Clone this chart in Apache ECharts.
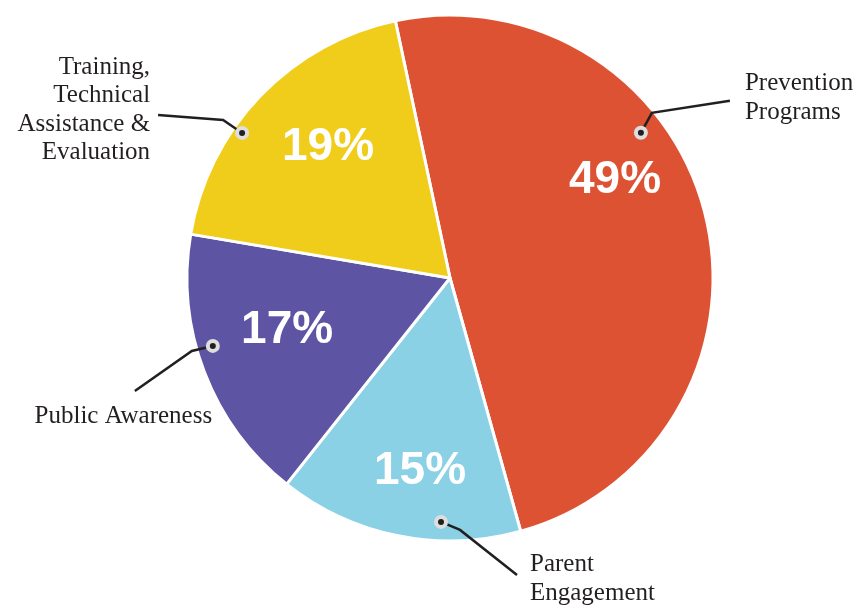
<!DOCTYPE html>
<html><head><meta charset="utf-8">
<script src="https://cdn.jsdelivr.net/npm/echarts@6/dist/echarts.min.js"></script>
<style>html,body{margin:0;padding:0;background:#fff}#main{width:862px;height:605px}</style>
</head><body><div id="main"></div>
<script>
// ---- data ----
const categories = ['Prevention Programs', 'Parent Engagement', 'Public Awareness', 'Training, Technical Assistance & Evaluation'];
const labelTexts = ['Prevention\nPrograms', 'Parent\nEngagement', 'Public Awareness', 'Training,\nTechnical\nAssistance &\nEvaluation'];
const values = [49, 15, 17, 19];

// ---- styles ----
const colors = ['#DE5234', '#8AD1E6', '#5D55A4', '#F0CD1A'];
// placement inside slices: [fraction of slice angle, fraction of radius]
const pctPlace = [[0.404, 0.73], [0.452, 0.745], [0.554, 0.65], [0.547, 0.68]];
const dotPlace = [[0.367, 0.912], [0.328, 0.928], [0.582, 0.938], [0.37, 0.964]];
// leader line shape, relative to the dot
const leader = [
  { p2: [11, -20], p3: [89, -32], lab: [104, -35], align: 'left' },
  { p2: [19, 8], p3: [76, 53], lab: [89, 57], align: 'left' },
  { p2: [-21, 5], p3: [-78, 45], lab: [-89.5, 71], align: 'center' },
  { p2: [-19, -13], p3: [-84, -18], lab: [-92, -23], align: 'right' }
];

const chart = echarts.init(document.getElementById('main'), null, { renderer: 'canvas' });

function pt(i, place) {
  const lay = chart.getModel().getSeriesByIndex(0).getData().getItemLayout(i);
  const a = lay.startAngle + (lay.endAngle - lay.startAngle) * place[0];
  const r = lay.r * place[1];
  return [lay.cx + r * Math.cos(a), lay.cy + r * Math.sin(a)];
}

const pieData = values.map((v, i) => ({ name: categories[i], value: v, itemStyle: { color: colors[i] } }));
const ghostData = values.map((v, i) => ({ name: categories[i], value: v }));

const common = {
  type: 'pie',
  center: [450, 278],
  radius: 263,
  startAngle: 102,
  clockwise: true,
  avoidLabelOverlap: false,
  emphasis: { disabled: true },
  animation: false
};

const option = {
  animation: false,
  backgroundColor: '#ffffff',
  series: [
    Object.assign({}, common, {
      z: 2,
      data: pieData,
      itemStyle: { borderColor: '#ffffff', borderWidth: 3 },
      label: {
        show: true,
        position: 'inside',
        formatter: p => p.value + '%',
        color: '#ffffff',
        fontFamily: 'Liberation Sans, Arial, sans-serif',
        fontWeight: 'bold',
        fontSize: 46
      },
      labelLine: { show: false },
      labelLayout: p => {
        const c = pt(p.dataIndex, pctPlace[p.dataIndex]);
        return { x: c[0], y: c[1], align: 'center', verticalAlign: 'middle' };
      }
    }),
    Object.assign({}, common, {
      z: 5,
      data: ghostData,
      silent: true,
      itemStyle: { color: 'rgba(0,0,0,0)', borderWidth: 0 },
      label: {
        show: true,
        position: 'outside',
        formatter: p => labelTexts[p.dataIndex],
        color: '#231F20',
        fontFamily: 'Liberation Serif, Times New Roman, serif',
        fontSize: 25,
        lineHeight: 28.5
      },
      labelLine: { show: true, lineStyle: { color: '#231F20', width: 2.5 } },
      labelLayout: p => {
        const i = p.dataIndex;
        const d = pt(i, dotPlace[i]);
        const L = leader[i];
        return {
          x: d[0] + L.lab[0],
          y: d[1] + L.lab[1],
          align: L.align,
          verticalAlign: 'middle',
          labelLinePoints: [d, [d[0] + L.p2[0], d[1] + L.p2[1]], [d[0] + L.p3[0], d[1] + L.p3[1]]]
        };
      }
    })
  ]
};

chart.setOption(option);

const dots = [];
values.forEach((v, i) => {
  const d = pt(i, dotPlace[i]);
  dots.push({ type: 'circle', z: 100, zlevel: 0, shape: { cx: d[0], cy: d[1], r: 7 }, style: { fill: '#DEDEDE' }, silent: true });
  dots.push({ type: 'circle', z: 101, zlevel: 0, shape: { cx: d[0], cy: d[1], r: 3 }, style: { fill: '#231F20' }, silent: true });
});
chart.setOption({ graphic: { elements: dots } });
</script>
</body></html>
